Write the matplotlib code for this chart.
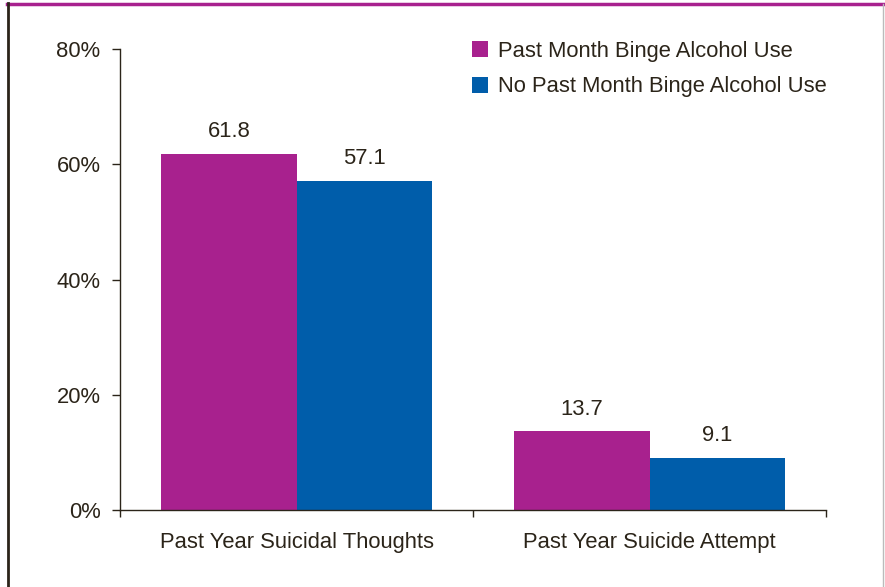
import numpy as np
import matplotlib.pyplot as plt
from matplotlib.lines import Line2D

# percentages by outcome and binge alcohol status
categories = ['Past Year Suicidal Thoughts', 'Past Year Suicide Attempt']
binge = [61.8, 13.7]
no_binge = [57.1, 9.1]
series_names = ['Past Month Binge Alcohol Use', 'No Past Month Binge Alcohol Use']
yticks = [0, 20, 40, 60, 80]

magenta = '#A8218E'
blue = '#005DAA'
ink = '#2B2419'

plt.rcParams['font.family'] = ['Liberation Sans', 'DejaVu Sans']
plt.rcParams['font.size'] = 15.8

fig = plt.figure(figsize=(8.85, 5.87), dpi=100)
ax = fig.add_axes([120/885, 77/587, 706/885, 461/587])

x = np.arange(len(categories))
w = 0.383
b1 = ax.bar(x - w/2, binge, w, color=magenta, label=series_names[0])
b2 = ax.bar(x + w/2, no_binge, w, color=blue, label=series_names[1])

for bars, vals in [(b1, binge), (b2, no_binge)]:
    for r, v in zip(bars, vals):
        ax.text(r.get_x() + r.get_width()/2, v + 2.0, '%.1f' % v,
                ha='center', va='bottom', color=ink)

ax.set_xlim(-0.5, 1.5)
ax.set_ylim(0, 80)
ax.set_yticks(yticks)
ax.set_yticklabels(['%d%%' % t for t in yticks])
ax.set_xticks([-0.5, 0.5, 1.5], minor=False)
ax.set_xticklabels([])
ax.set_xticks(x, minor=True)
ax.set_xticklabels(categories, minor=True)
ax.tick_params(axis='x', which='minor', length=0, pad=16, colors=ink)
ax.tick_params(axis='x', which='major', length=5, width=1, color=ink)
ax.tick_params(axis='y', length=6, width=1, color=ink, labelcolor=ink, pad=8)
for s in ['top', 'right']:
    ax.spines[s].set_visible(False)
for s in ['left', 'bottom']:
    ax.spines[s].set_color(ink)
    ax.spines[s].set_linewidth(1)

ax.legend(loc='upper left', bbox_to_anchor=(472/885, 1 - 41/587),
          bbox_transform=fig.transFigure, frameon=False,
          handlelength=0.75, handleheight=0.75, handletextpad=0.42,
          labelspacing=0.65, borderaxespad=0, borderpad=0, labelcolor=ink)

# page frame around the chart
fig.add_artist(Line2D([7/885, 1], [1 - 3.5/587, 1 - 3.5/587], color=magenta, lw=2.5,
                      transform=fig.transFigure))
fig.add_artist(Line2D([7.5/885, 7.5/885], [0, 1 - 3/587], color=ink, lw=2,
                      transform=fig.transFigure))
fig.add_artist(Line2D([882.5/885, 882.5/885], [0, 1 - 4/587], color='#BBBBBB', lw=1,
                      transform=fig.transFigure))

fig.savefig('out.png', dpi=100)
